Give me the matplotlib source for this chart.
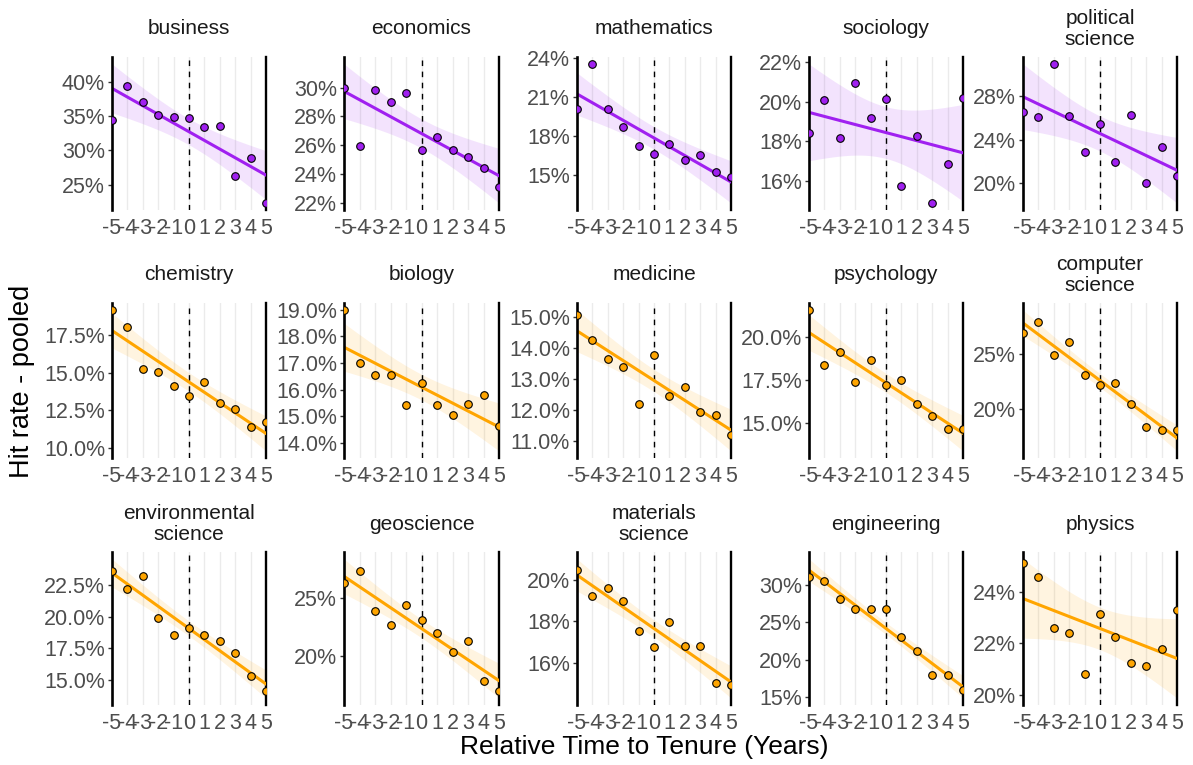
import numpy as np
import matplotlib
matplotlib.use("Agg")
import matplotlib.pyplot as plt

plt.rcParams['font.family'] = ['Liberation Sans', 'DejaVu Sans']

# ---------------- data (hit rate in %) ----------------
years = [-5, -4, -3, -2, -1, 0, 1, 2, 3, 4, 5]

fields = ["business", "economics", "mathematics", "sociology", "political\nscience",
          "chemistry", "biology", "medicine", "psychology", "computer\nscience",
          "environmental\nscience", "geoscience", "materials\nscience", "engineering", "physics"]

social_fields = ["business", "economics", "mathematics", "sociology", "political\nscience"]

business      = [34.4, 39.4, 37.0, 35.1, 34.9, 34.7, 33.4, 33.6, 26.2, 28.9, 22.3]
economics     = [29.95, 25.98, 29.86, 28.99, 29.66, 25.70, 26.57, 25.66, 25.15, 24.40, 23.07]
mathematics   = [20.06, 23.57, 20.06, 18.68, 17.26, 16.65, 17.36, 16.14, 16.54, 15.27, 14.87]
sociology     = [18.40, 20.07, 18.16, 20.93, 19.19, 20.14, 15.75, 18.25, 14.86, 16.86, 20.19]
political     = [26.56, 26.08, 30.99, 26.20, 22.87, 25.44, 21.93, 26.23, 19.97, 23.27, 20.61]
chemistry     = [19.16, 18.01, 15.26, 15.02, 14.15, 13.46, 14.35, 13.00, 12.60, 11.42, 11.76]
biology       = [18.98, 17.01, 16.54, 16.54, 15.41, 16.25, 15.41, 15.05, 15.46, 15.79, 14.63]
medicine      = [15.06, 14.24, 13.65, 13.39, 12.17, 13.75, 12.44, 12.73, 11.93, 11.84, 11.17]
psychology    = [21.55, 18.39, 19.09, 17.40, 18.64, 17.23, 17.50, 16.10, 15.39, 14.65, 14.67]
computer      = [26.95, 27.93, 24.88, 26.07, 23.05, 22.16, 22.35, 20.40, 18.35, 18.08, 18.05]
environmental = [23.59, 22.16, 23.18, 19.87, 18.55, 19.09, 18.52, 18.05, 17.14, 15.35, 14.13]
geoscience    = [26.21, 27.25, 23.82, 22.67, 24.41, 23.09, 22.02, 20.39, 21.29, 17.89, 17.02]
materials     = [20.49, 19.24, 19.60, 19.01, 17.53, 16.78, 17.96, 16.84, 16.84, 15.03, 14.95]
engineering   = [31.15, 30.49, 28.10, 26.78, 26.82, 26.78, 23.07, 21.13, 17.91, 17.91, 15.93]
physics       = [25.10, 24.58, 22.59, 22.38, 20.81, 23.15, 22.26, 21.23, 21.13, 21.77, 23.28]

series = [business, economics, mathematics, sociology, political,
          chemistry, biology, medicine, psychology, computer,
          environmental, geoscience, materials, engineering, physics]

ytick_values = [
    [25, 30, 35, 40], [22, 24, 26, 28, 30], [15, 18, 21, 24], [16, 18, 20, 22], [20, 24, 28],
    [10, 12.5, 15, 17.5], [14, 15, 16, 17, 18, 19], [11, 12, 13, 14, 15], [15, 17.5, 20], [20, 25],
    [15, 17.5, 20, 22.5], [20, 25], [16, 18, 20], [15, 20, 25, 30], [20, 22, 24],
]
ytick_decimals = [0, 0, 0, 0, 0,
                  1, 1, 1, 1, 0,
                  1, 0, 0, 0, 0]

x_label = "Relative Time to Tenure (Years)"
y_label = "Hit rate - pooled"

# ---------------- layout ----------------
W, H = 1193, 765
fig = plt.figure(figsize=(W / 100, H / 100), dpi=100)

col_left = [112, 344, 577, 809, 1023]
col_right = [266, 499, 731, 963, 1177]
row_top = [57, 303, 552]
row_bottom = [210, 458, 705]

PURPLE = "#A020F0"
ORANGE = "#FFA500"
T975 = 2.262157  # t quantile, df = 9

x = np.array(years, dtype=float)
xs = np.linspace(-5, 5, 80)

for i, (name, vals) in enumerate(zip(fields, series)):
    r, c = divmod(i, 5)
    l, rr = col_left[c], col_right[c]
    t, b = row_top[r], row_bottom[r]
    ax = fig.add_axes([l / W, 1 - b / H, (rr - l) / W, (b - t) / H])
    color = PURPLE if name in social_fields else ORANGE

    y = np.array(vals, dtype=float)
    slope, icpt = np.polyfit(x, y, 1)
    n = len(x)
    resid = y - (icpt + slope * x)
    s = np.sqrt(np.sum(resid ** 2) / (n - 2))
    sxx = np.sum((x - x.mean()) ** 2)
    yhat = icpt + slope * xs
    se = s * np.sqrt(1 / n + (xs - x.mean()) ** 2 / sxx)
    lo, hi = yhat - T975 * se, yhat + T975 * se

    ax.fill_between(xs, lo, hi, color=color, alpha=0.12, lw=0, zorder=1)
    ax.axvline(0, color="black", lw=1.0, ls=(0, (4, 4)), zorder=1.5)
    ax.axvline(5, color="black", lw=1.7, zorder=1.6, clip_on=False)
    ax.plot(xs, yhat, color=color, lw=2.2, zorder=2)
    ax.scatter(x, y, s=30, facecolor=color, edgecolor="black", linewidth=0.8, zorder=3)

    ymin = min(y.min(), lo.min())
    ymax = max(y.max(), hi.max())
    pad = 0.05 * (ymax - ymin)
    ax.set_ylim(ymin - pad, ymax + pad)
    ax.set_xlim(-5, 5)

    ax.set_xticks(years)
    ax.set_xticklabels([str(v) for v in years])
    yt = [v for v in ytick_values[i] if ymin - pad <= v <= ymax + pad]
    ax.set_yticks(yt)
    d = ytick_decimals[i]
    ax.set_yticklabels([f"{v:.{d}f}%" for v in yt])

    ax.grid(axis="x", color="#EBEBEB", lw=1.0, zorder=0)
    ax.grid(axis="y", visible=False)
    ax.set_axisbelow(True)
    for sp in ["top", "bottom", "right"]:
        ax.spines[sp].set_visible(False)
    ax.spines["left"].set_linewidth(1.9)
    ax.spines["left"].set_color("black")
    ax.tick_params(axis="x", length=0, pad=6, labelsize=15.5, labelcolor="#4D4D4D")
    ax.tick_params(axis="y", length=3, width=1, color="#333333", pad=2,
                   labelsize=15.5, labelcolor="#4D4D4D")

    ax.annotate(name, xy=(0.5, 1), xycoords="axes fraction",
                xytext=(0, 28 * 0.72), textcoords="offset points",
                ha="center", va="center", fontsize=15, color="#1A1A1A",
                linespacing=1.1, annotation_clip=False)

fig.text(644 / W, 1 - 747 / H, x_label, ha="center", va="center", fontsize=19, color="black")
fig.text(22 / W, 1 - 381 / H, y_label, ha="center", va="center", rotation=90,
         fontsize=19.5, color="black")

fig.savefig("out.png", dpi=100, facecolor="white")
